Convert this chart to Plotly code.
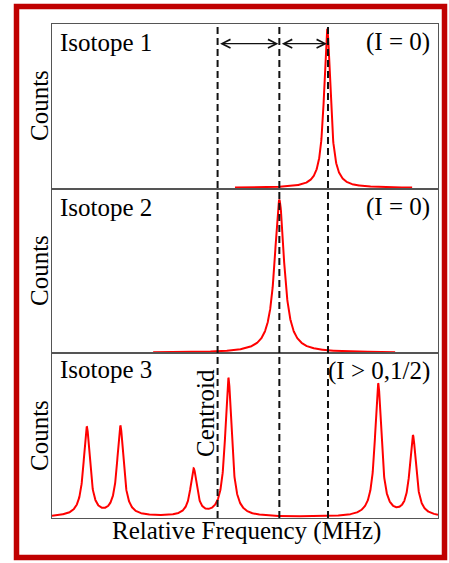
import numpy as np
import plotly.graph_objects as go
from plotly.subplots import make_subplots

# ---- data (arbitrary relative-frequency units, counts in arbitrary units) ----
panel_labels = ["Isotope 1", "Isotope 2", "Isotope 3"]
spin_labels = ["(I = 0)", "(I = 0)", "(I > 0,1/2)"]

iso1_centers = [71.3]
iso1_heights = [97.0]
iso1_widths = [1.0]
iso1_span = [47.4, 93.3]

iso2_centers = [58.9]
iso2_heights = [93.0]
iso2_widths = [1.5]
iso2_span = [26.2, 88.9]

iso3_centers = [9.0, 17.7, 36.7, 45.7, 84.5, 93.5]
iso3_heights = [54.5, 55.0, 28.5, 84.5, 81.0, 49.0]
iso3_widths = [1.0, 1.0, 1.0, 1.0, 1.0, 1.0]
iso3_span = [0.0, 100.0]

ref_lines = [42.9, 58.9, 71.5]   # centroid, isotope 2, isotope 1
x_range = [0, 100]
y_range = [-0.5, 100]


def spectrum(centers, heights, widths, span):
    x = np.arange(span[0], span[1] + 1e-9, 0.05)
    y = np.zeros_like(x)
    for c, h, g in zip(centers, heights, widths):
        y += h / (1 + ((x - c) / g) ** 2)
    return x, y


fig = make_subplots(rows=3, cols=1, shared_xaxes=True, vertical_spacing=0)

for row, (c, h, w, s) in enumerate([
    (iso1_centers, iso1_heights, iso1_widths, iso1_span),
    (iso2_centers, iso2_heights, iso2_widths, iso2_span),
    (iso3_centers, iso3_heights, iso3_widths, iso3_span),
], start=1):
    x, y = spectrum(c, h, w, s)
    fig.add_trace(go.Scatter(x=x, y=y, mode="lines",
                             line=dict(color="#ff0000", width=2),
                             showlegend=False, hoverinfo="skip"),
                  row=row, col=1)

axis_line = dict(showline=True, mirror=True, linecolor="#555555", linewidth=1,
                 showgrid=False, zeroline=False, showticklabels=False, ticks="")
for row in range(1, 4):
    fig.update_xaxes(range=x_range, **axis_line, row=row, col=1)
    fig.update_yaxes(range=y_range, **axis_line, row=row, col=1)

# dashed reference lines through all panels
for xv in ref_lines:
    fig.add_shape(type="line", xref="x", yref="paper", x0=xv, x1=xv, y0=0, y1=1,
                  line=dict(color="#111111", width=2, dash="7px,4px"))

# double-headed arrows in top panel
arrow_y = 88
for a, b in [(ref_lines[0], ref_lines[1]), (ref_lines[1], ref_lines[2])]:
    fig.add_annotation(x=b, y=arrow_y, ax=a, ay=arrow_y, xref="x", yref="y",
                       axref="x", ayref="y", text="", showarrow=True,
                       arrowhead=5, startarrowhead=5, arrowside="end+start",
                       arrowsize=1.2, startarrowsize=1.2, arrowwidth=1.4,
                       arrowcolor="#111111", standoff=1, startstandoff=1)

font = dict(family="Liberation Serif", size=25, color="#000000")

# panel labels
W, H = 449, 563
L, R, T, B = 52, 438, 24, 518


def px(xp):
    return (xp - L) / (R - L)


def py(yp):
    return (B - yp) / (B - T)


label_y = [42, 207, 369]
spin_y = [42, 207, 371]
for lab, spin, ly, sy in zip(panel_labels, spin_labels, label_y, spin_y):
    fig.add_annotation(x=px(58), y=py(ly), xref="paper", yref="paper", text=lab,
                       showarrow=False, xanchor="left", yanchor="middle", font=font)
    fig.add_annotation(x=px(432), y=py(sy), xref="paper", yref="paper", text=spin,
                       showarrow=False, xanchor="right", yanchor="middle", font=font)

for cy in [106, 271, 436]:
    fig.add_annotation(x=px(39), y=py(cy), xref="paper", yref="paper", text="Counts",
                       showarrow=False, textangle=-90, xanchor="center",
                       yanchor="middle", font=font)

fig.add_annotation(x=px(206), y=py(413), xref="paper", yref="paper", text="Centroid",
                   showarrow=False, textangle=-90, xanchor="center",
                   yanchor="middle", font=font)

fig.add_annotation(x=px(246), y=py(531), xref="paper", yref="paper",
                   text="Relative Frequency (MHz)", showarrow=False,
                   xanchor="center", yanchor="middle", font=font)

# red frame
fig.add_shape(type="rect", xref="paper", yref="paper",
              x0=px(16.5), x1=px(444.5), y0=py(557.5), y1=py(6.5),
              line=dict(color="#c00000", width=5.5), layer="above")

fig.update_layout(width=W, height=H, margin=dict(l=L, r=W - R, t=T, b=H - B),
                  paper_bgcolor="white", plot_bgcolor="white")

fig.write_html("out.html")
